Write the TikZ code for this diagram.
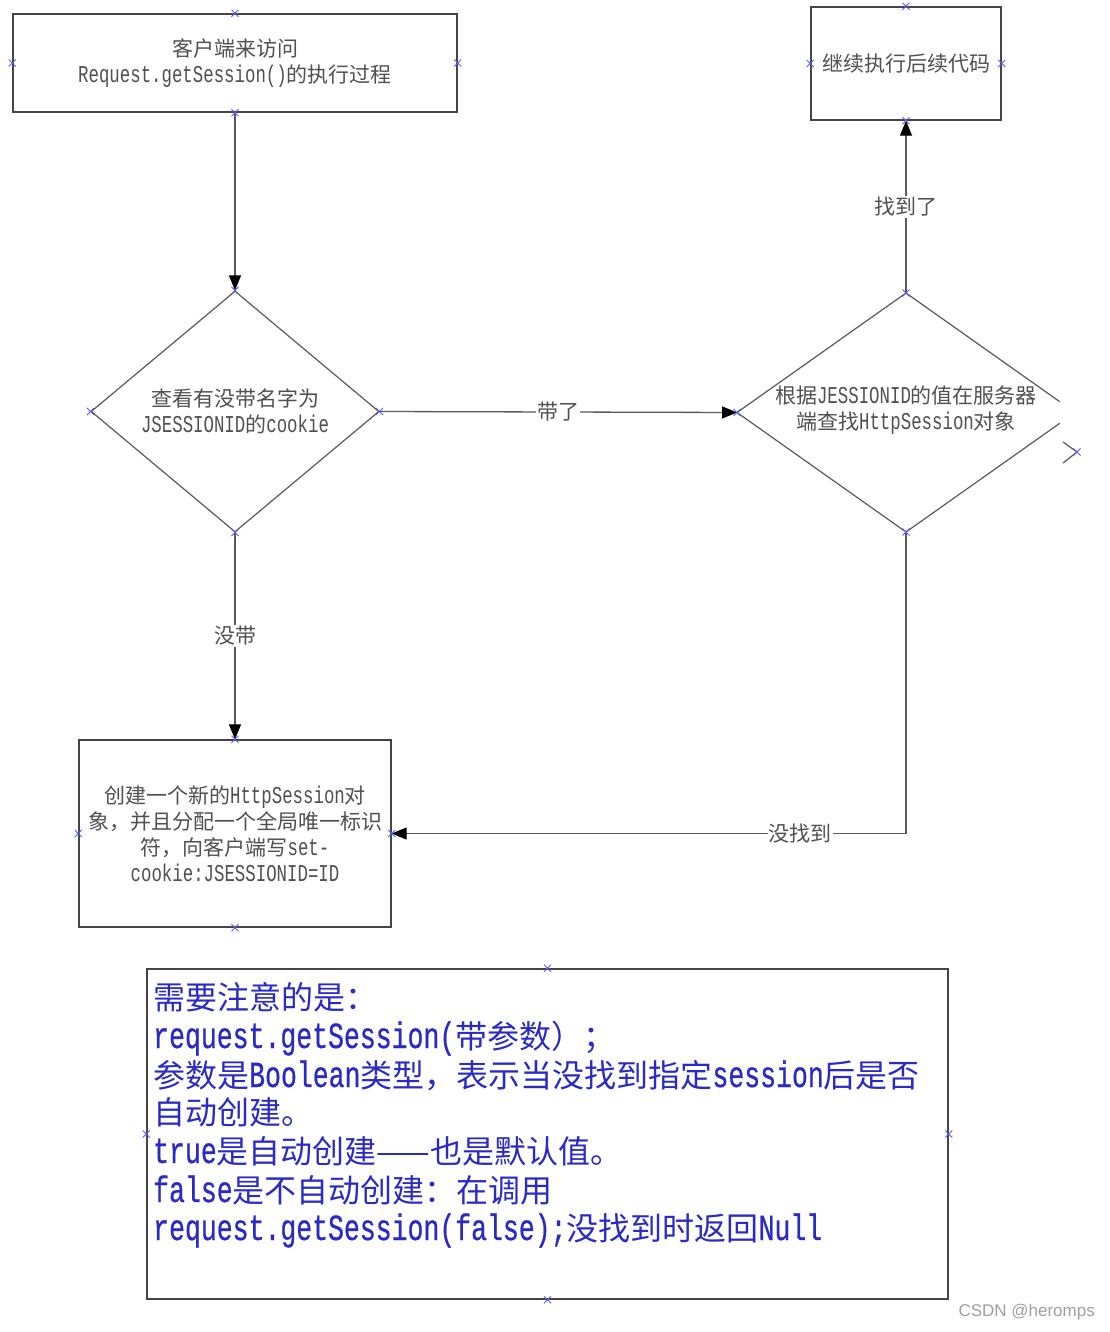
\documentclass[tikz,border=0pt]{standalone}
\usepackage{fontspec}
\setmainfont{Noto Sans CJK SC}
\newfontfamily\monolat{Liberation Mono}[Scale=1.15,FakeStretch=0.72]
\newfontfamily\notemono{Liberation Mono}[Scale=1.15,FakeStretch=0.72,FakeBold=0.6]
\newfontfamily\wmfont{Liberation Sans}
\newcommand\lat[1]{{\monolat #1}}
\newcommand\nlat[1]{{\notemono #1}}
\usetikzlibrary{shapes.geometric,arrows.meta,calc}

\definecolor{linegray}{HTML}{5A5A5A}
\definecolor{boxgray}{HTML}{454545}
\definecolor{txtgray}{HTML}{505050}
\definecolor{noteblue}{HTML}{2A2AC6}
\definecolor{markblue}{HTML}{5C5CF0}

\begin{document}
\begin{tikzpicture}[x=1pt,y=-1pt,
  box/.style={draw=boxgray, line width=1.4pt, inner sep=0pt},
  diagtext/.style={text=txtgray, font=\fontsize{21}{26}\selectfont, align=center},
  shapeline/.style={draw=linegray, line width=1.2pt},
  flow/.style={draw=linegray, line width=1.3pt, -{Triangle[length=15pt,width=12pt,color=black]}},
  lbl/.style={fill=white, text=txtgray, font=\fontsize{21}{26}\selectfont, inner sep=1pt},
  notetext/.style={anchor=base west, inner sep=0pt, text=noteblue, font=\fontsize{32}{38}\selectfont},
  mk/.style={draw=markblue, line width=0.9pt}]

\useasboundingbox (0,0) rectangle (1110,1332);
\fill[white] (0,0) rectangle (1110,1332);

% boxes
\node[box, diagtext, minimum width=444pt, minimum height=98pt] (b1) at (235,63)
  {客户端来访问\\\lat{Request.getSession()}的执行过程};
\node[box, diagtext, minimum width=190pt, minimum height=113pt] (b2) at (906,63.5)
  {继续执行后续代码};
\node[box, diagtext, minimum width=312pt, minimum height=187pt] (b3) at (235,833.5)
  {创建一个新的\lat{HttpSession}对\\象，并且分配一个全局唯一标识\\符，向客户端写\lat{set-}\\\lat{cookie:JSESSIONID=ID}};

% first decision
\node[diamond, shapeline, diagtext, inner sep=0pt, minimum width=288pt, minimum height=241pt] (d1) at (235,411.5)
  {查看有没带名字为\\\lat{JSESSIONID}的\lat{cookie}};

% second decision: outline drawn by its corners, right corner broken off
\coordinate (d2n) at (906,293);
\coordinate (d2s) at (906,532);
\coordinate (d2w) at (737,412.5);
\coordinate (d2e) at (1075,412.5);
\node[diagtext, inner sep=0pt] (d2) at (906,410)
  {根据\lat{JESSIONID}的值在服务器\\端查找\lat{HttpSession}对象};
\coordinate (d2up) at ($(d2n)!0.91!(d2e)$);
\coordinate (d2lo) at ($(d2s)!0.91!(d2e)$);
\draw[shapeline] (d2up) -- (d2n) -- (d2w) -- (d2s) -- (d2lo);
\coordinate (tipA) at (1063,442);
\coordinate (tipB) at (1077,452);
\coordinate (tipC) at (1063,463);
\draw[shapeline] (tipA) -- (tipB) -- (tipC);

% connectors
\draw[flow] (b1.south) -- (d1.north);
\draw[flow] (d1.east) -- node[lbl] {带了} (d2w);
\draw[flow] (d1.south) -- node[lbl] {没带} (b3.north);
\draw[flow] (d2s) |- node[lbl, pos=0.603] {没找到} (b3.east);
\draw[flow] (d2n) -- node[lbl] {找到了} (b2.south);

% note
\node[draw=boxgray, line width=1.5pt, inner sep=0pt, minimum width=801pt, minimum height=330pt] (note) at (547.5,1134) {};
\node[notetext] (t1) at (153,1009) {需要注意的是：};
\node[notetext] (t2) at (153,1048) {\nlat{request.getSession(}带参数）；};
\node[notetext] (t3) at (153,1087) {参数是\nlat{Boolean}类型，表示当没找到指定\nlat{session}后是否};
\node[notetext] (t4) at (153,1124) {自动创建。};
\node[notetext] (t5) at (153,1163) {\nlat{true}是自动创建——也是默认值。};
\node[notetext] (t6) at (153,1202) {\nlat{false}是不自动创建：在调用};
\node[notetext] (t7) at (153,1240) {\nlat{request.getSession(false);}没找到时返回\nlat{Null}};

% connection point marks
\foreach \p in {b1.north,b1.south,b1.west,b1.east,
                b2.north,b2.south,b2.west,b2.east,
                b3.north,b3.south,b3.west,b3.east,
                d1.north,d1.south,d1.west,d1.east,
                d2n,d2s,d2w,tipB,
                note.north,note.south,note.west,note.east}
  \draw[mk] (\p) +(-3.5,-3.5) -- +(3.5,3.5) +(-3.5,3.5) -- +(3.5,-3.5);

\node[anchor=east, inner sep=0pt, text=gray!75, font=\wmfont\fontsize{17}{20}\selectfont] (wm) at (1095,1312) {CSDN @heromps};
\end{tikzpicture}
\end{document}
